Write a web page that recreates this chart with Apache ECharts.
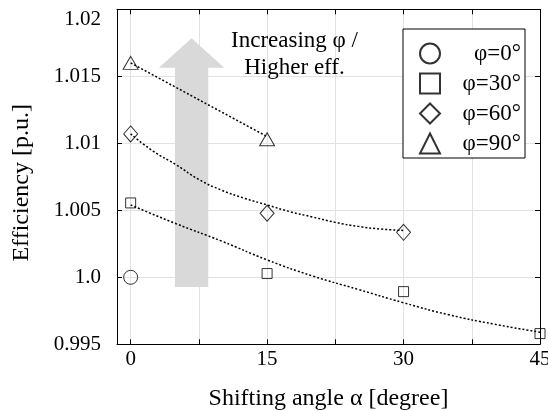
<!DOCTYPE html>
<html>
<head>
<meta charset="utf-8">
<script src="https://cdn.jsdelivr.net/npm/echarts@6/dist/echarts.min.js"></script>
<style>
html, body { margin: 0; padding: 0; background: #fff; }
#chart { width: 548px; height: 411px; }
</style>
</head>
<body>
<div id="chart"></div>
<script>
// measured efficiencies (p.u.) per shifting angle
var phi0X = [0];
var phi0Y = [1.0];
var phi30X = [0, 15, 30, 45];
var phi30Y = [1.00555, 1.00028, 0.99893, 0.9958];
var phi60X = [0, 15, 30];
var phi60Y = [1.0107, 1.00478, 1.00336];
var phi90X = [0, 15];
var phi90Y = [1.0160, 1.0103];

// dotted trend curves
var fit30X = [0, 5, 10, 15, 20, 25, 30, 35, 40, 45];
var fit30Y = [1.0054, 1.0040, 1.0027, 1.0013, 1.0001, 0.9991, 0.9981, 0.9972, 0.9965, 0.9959];
var fit60X = [0, 2.5, 5, 7.5, 10, 12.5, 15, 17.5, 20, 22.5, 25, 27.5, 30];
var fit60Y = [1.0107, 1.0094, 1.0084, 1.0073, 1.0065, 1.0059, 1.0054, 1.0049, 1.0045, 1.0041, 1.0038, 1.0036, 1.0035];
var fit90X = [0, 15];
var fit90Y = [1.0160, 1.0105];

// axis ticks / labels
var xTicks = [0, 7.5, 15, 22.5, 30, 37.5, 45];
var xLabels = [0, 15, 30, 45];
var yLabels = ['0.995', '1.0', '1.005', '1.01', '1.015', '1.02'];
var legendNames = ['φ=0°', 'φ=30°', 'φ=60°', 'φ=90°'];

// big gray arrow outline, in data units
var arrowX = [4.87, 8.53, 8.53, 10.29, 6.7, 3.1, 4.87];
var arrowY = [0.99928, 0.99928, 1.01564, 1.01564, 1.01784, 1.01564, 1.01564];

function pairs(xs, ys) {
    return xs.map(function (x, i) { return [x, ys[i]]; });
}

var serif = 'Liberation Serif';
var markerStyle = { color: 'transparent', borderColor: '#000', borderWidth: 1 };
var fitLine = { color: '#000', width: 1.5, type: [2, 2] };

var myChart = echarts.init(document.getElementById('chart'));

var option = {
    animation: false,
    grid: { left: 117, right: 8, top: 9.3, bottom: 66.7, outerBoundsMode: 'none', containLabel: false },
    legend: {
        orient: 'vertical',
        left: 403,
        top: 29,
        data: legendNames,
        selectedMode: false,
        itemWidth: 20,
        itemHeight: 20,
        itemGap: 7,
        padding: [13, 4, 3, 16],
        borderColor: '#000',
        borderWidth: 1,
        borderRadius: 0,
        backgroundColor: '#fff',
        formatter: '{t|{name}}',
        textStyle: {
            fontFamily: serif, fontSize: 23, color: '#000',
            rich: { t: { fontFamily: serif, fontSize: 23, color: '#000', width: 76, align: 'right' } }
        }
    },
    xAxis: [{
        type: 'value',
        min: -1.5,
        max: 45,
        position: 'bottom',
        name: 'Shifting angle α [degree]',
        nameLocation: 'middle',
        nameGap: 42,
        nameTextStyle: { fontFamily: serif, fontSize: 24, color: '#000' },
        axisLine: { onZero: false, lineStyle: { color: '#000', width: 1 } },
        axisTick: { inside: true, length: 5, customValues: xTicks, lineStyle: { color: '#000' } },
        axisLabel: { customValues: xLabels, margin: 5, fontFamily: serif, fontSize: 21, color: '#000' },
        splitLine: { show: true, lineStyle: { color: '#e2e2e2', width: 1 } }
    }, {
        type: 'value',
        min: -1.5,
        max: 45,
        position: 'top',
        axisLine: { onZero: false, lineStyle: { color: '#000', width: 1 } },
        axisTick: { inside: true, length: 5, customValues: xTicks, lineStyle: { color: '#000' } },
        axisLabel: { show: false },
        splitLine: { show: false }
    }],
    yAxis: [{
        type: 'value',
        min: 0.995,
        max: 1.02,
        interval: 0.005,
        position: 'left',
        name: 'Efficiency [p.u.]',
        nameLocation: 'middle',
        nameGap: 83,
        nameTextStyle: { fontFamily: serif, fontSize: 24, color: '#000', padding: [0, 12, 0, 0] },
        axisLine: { show: true, onZero: false, lineStyle: { color: '#000', width: 1 } },
        axisTick: { show: true, inside: true, length: 5, lineStyle: { color: '#000' } },
        axisLabel: {
            margin: 16,
            fontFamily: serif,
            fontSize: 21,
            color: '#000',
            verticalAlignMaxLabel: 'top',
            formatter: function (v) {
                return yLabels[Math.round((v - 0.995) / 0.005)];
            }
        },
        splitLine: { show: true, lineStyle: { color: '#e2e2e2', width: 1 } }
    }, {
        type: 'value',
        min: 0.995,
        max: 1.02,
        interval: 0.005,
        position: 'right',
        axisLine: { show: true, onZero: false, lineStyle: { color: '#000', width: 1 } },
        axisTick: { show: true, inside: true, length: 5, lineStyle: { color: '#000' } },
        axisLabel: { show: false },
        splitLine: { show: false }
    }],
    graphic: [{
        type: 'text',
        x: 294.5,
        y: 27,
        z: 10,
        style: {
            text: 'Increasing φ /\nHigher eff.',
            font: '23px "Liberation Serif"',
            fill: '#000',
            align: 'center',
            verticalAlign: 'top',
            lineHeight: 27
        }
    }],
    series: [{
        type: 'custom',
        name: 'arrow',
        silent: true,
        z: 1,
        data: [[arrowX[0], arrowY[0]]],
        renderItem: function (params, api) {
            var pts = arrowX.map(function (x, i) { return api.coord([x, arrowY[i]]); });
            return { type: 'polygon', shape: { points: pts }, style: { fill: '#d9d9d9' } };
        }
    }, {
        type: 'line', name: 'fit90', smooth: false, symbol: 'none', z: 3,
        lineStyle: fitLine, data: pairs(fit90X, fit90Y)
    }, {
        type: 'line', name: 'fit60', smooth: true, symbol: 'none', z: 3,
        lineStyle: fitLine, data: pairs(fit60X, fit60Y)
    }, {
        type: 'line', name: 'fit30', smooth: true, symbol: 'none', z: 3,
        lineStyle: fitLine, data: pairs(fit30X, fit30Y)
    }, {
        type: 'scatter', name: legendNames[0], symbol: 'circle', symbolSize: 14, z: 5,
        itemStyle: markerStyle, data: pairs(phi0X, phi0Y)
    }, {
        type: 'scatter', name: legendNames[1], symbol: 'rect', symbolSize: 10, z: 5,
        itemStyle: markerStyle, data: pairs(phi30X, phi30Y)
    }, {
        type: 'scatter', name: legendNames[2], symbol: 'diamond', symbolSize: [14, 16], z: 5,
        itemStyle: markerStyle, data: pairs(phi60X, phi60Y)
    }, {
        type: 'scatter', name: legendNames[3], symbol: 'triangle', symbolSize: [15, 13], z: 5,
        itemStyle: markerStyle, data: pairs(phi90X, phi90Y)
    }]
};

myChart.setOption(option);
</script>
</body>
</html>
